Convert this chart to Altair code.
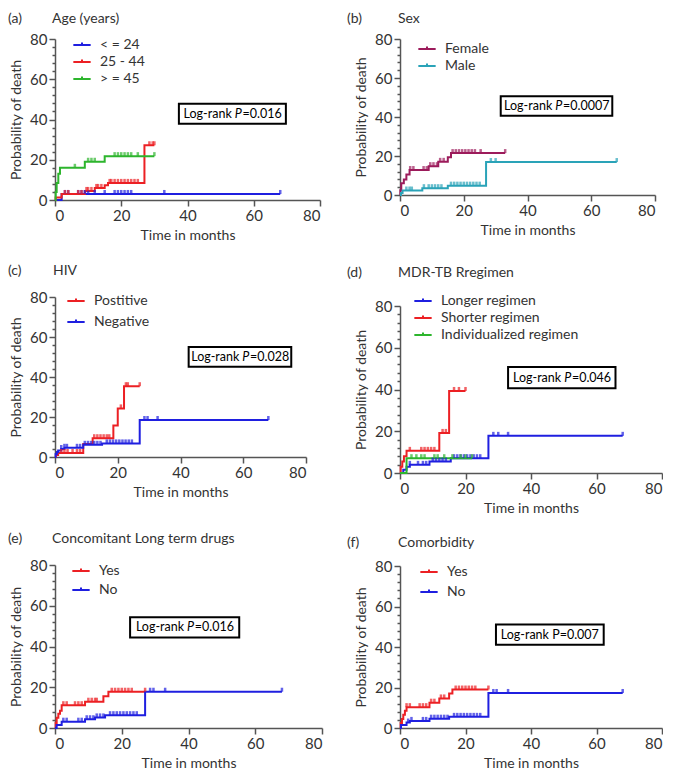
import altair as alt
import numpy as np
import pandas as pd

FONT = "Lato"
TXT = "#333333"
AXC = "#555555"

BLUE = "#1f1fe0"
RED = "#ec2024"
GREEN = "#2db52d"
CRIMSON = "#9c1b5b"
TEAL = "#2aa3b8"

XTICKS = [0, 20, 40, 60, 80]
YTICKS = list(range(0, 81, 4))

# ---------------- (a) Age ----------------
a_groups = ["< = 24", "25 - 44", "> = 45"]
a_le24_t = [0, 2, 68]
a_le24_p = [0, 3.0, 3.0]
a_le24_c = [3, 4, 7, 8, 9, 10, 12, 15, 18, 19, 20, 21, 22, 23, 33, 68]
a_2544_t = [0, 0.2, 2, 9, 12, 15, 16, 27, 30]
a_2544_p = [0, 1.2, 3.0, 4.5, 6.0, 7.3, 8.5, 27.2, 27.2]
a_2544_c = [3, 4, 7, 8, 9.5, 10, 11, 12.5, 13, 14, 16.5, 17, 18, 19, 20, 21, 22, 23, 24, 25, 28.5, 29.5, 30]
a_ge45_t = [0, 0.2, 0.5, 1, 1.5, 9, 15, 30]
a_ge45_p = [0, 4, 8.5, 13, 16, 19, 21.8, 21.8]
a_ge45_c = [6, 10, 11, 12, 18, 19, 20, 21, 22, 23, 25, 30]

# ---------------- (b) Sex ----------------
b_groups = ["Female", "Male"]
b_fem_t = [0, 0.1, 0.4, 1.2, 2, 3, 9, 12, 15, 16, 33]
b_fem_p = [0, 2.5, 6, 8, 10.5, 12.8, 14.8, 17, 19.3, 21.5, 21.5]
b_fem_c = [3.2, 4.2, 7.4, 8.4, 9.5, 10.5, 11.6, 12.6, 13.7, 16.5, 17.5, 18.5, 19.5, 20.5, 21.5, 22.5, 23.5, 25.3, 33]
b_male_t = [0, 0.3, 0.8, 7, 15, 27, 68]
b_male_p = [0, 1.0, 2.3, 3.5, 4.8, 16.9, 16.9]
b_male_c = [2, 3, 3.7, 7.5, 9, 10, 11, 12, 13, 16, 17, 18, 19, 20, 21, 22, 23, 24, 25, 28.5, 30, 68]

# ---------------- (c) HIV ----------------
c_groups = ["Postitive", "Negative"]
c_pos_t = [0, 0.3, 1, 9, 12, 18.6, 20, 22, 27]
c_pos_p = [0, 1, 2, 6.5, 9.4, 15.7, 24.3, 35.4, 35.4]
c_pos_c = [2, 3, 4, 5.6, 7, 8, 12.5, 13.5, 14.5, 15.5, 16.5, 17.3, 21, 22.6, 23.2, 27]
c_neg_t = [0, 0.2, 0.6, 1, 2, 3, 9, 15, 27, 68]
c_neg_p = [0, 1.5, 2.5, 3.3, 4.0, 4.6, 6.1, 6.8, 18.5, 18.5]
c_neg_c = [2, 3, 3.8, 7, 8, 9.5, 10.5, 11.5, 12.5, 13.5, 14.5, 16.5, 17.5, 18.5, 19.5, 20.5, 21.5, 22.5, 23.5, 24.5, 28.5, 29.5, 32.7, 68]

# ---------------- (d) MDR-TB regimen ----------------
d_groups = ["Longer regimen", "Shorter regimen", "Individualized regimen"]
d_long_t = [0, 1, 2, 3, 9, 15.5, 27, 68]
d_long_p = [0, 1.5, 3.0, 3.9, 5.5, 7.1, 17.8, 17.8]
d_long_c = [3, 5.5, 7, 8, 10, 11, 12, 13, 14, 16.5, 17.5, 18.5, 19.5, 20.5, 21.5, 22.5, 23.5, 24.5, 28.5, 30, 33, 68]
d_short_t = [0, 0.2, 0.7, 1.2, 2, 12, 15, 20]
d_short_p = [0, 3, 5.5, 8, 10.6, 19.2, 39.3, 39.3]
d_short_c = [3, 6.5, 7.5, 8.5, 9.5, 10.5, 13, 14, 16.5, 18, 20]
d_ind_t = [0, 2, 22]
d_ind_p = [0, 7.1, 7.1]
d_ind_c = [3.5, 5, 6.5, 7.5, 10.5, 11.5, 13.5, 16, 18.5, 20, 22]

# ---------------- (e) Concomitant long term drugs ----------------
e_groups = ["Yes", "No"]
e_yes_t = [0, 0.2, 0.5, 1, 1.5, 2, 9, 14.5, 16, 27]
e_yes_p = [0, 2.5, 5, 7, 8.5, 11.2, 12.9, 15.6, 17.8, 17.8]
e_yes_c = [2.5, 3.5, 6, 7, 8, 10, 11, 12, 12.5, 17, 18, 19, 20, 21, 22, 23, 27]
e_no_t = [0, 0.5, 2, 9, 12, 15, 27, 68]
e_no_p = [0, 1.5, 3.1, 4.3, 5.2, 6.3, 17.8, 17.8]
e_no_c = [2.5, 3.5, 7, 8, 9.5, 10.5, 11.5, 12.5, 13.5, 14.5, 16.5, 17.5, 18.5, 19.5, 20.5, 21.5, 22.5, 23.5, 24.5, 28.5, 29.5, 33, 68]

# ---------------- (f) Comorbidity ----------------
f_groups = ["Yes", "No"]
f_yes_t = [0, 0.2, 0.6, 1, 1.5, 2, 9, 12, 15, 16, 27]
f_yes_p = [0, 2.5, 4.5, 6.5, 8.5, 10.3, 12.5, 14.6, 17, 19, 19]
f_yes_c = [2, 3, 6, 7, 8, 9.5, 10.5, 12.5, 13.5, 17, 18, 19, 20, 21, 22, 23, 27]
f_no_t = [0, 0.3, 2, 3, 9, 15, 27, 68]
f_no_p = [0, 1.5, 2.7, 3.5, 4.6, 5.5, 17.3, 17.3]
f_no_c = [2.5, 3.5, 7, 8, 9.5, 10.5, 11.5, 12.5, 13.5, 14.5, 16.5, 17.5, 18.5, 19.5, 20.5, 21.5, 22.5, 23.5, 24.5, 28.5, 29.5, 33, 68]

PANELS = [
    dict(letter="(a)", title="Age (years)", groups=a_groups, colors=[BLUE, RED, GREEN],
         series=[(a_le24_t, a_le24_p, a_le24_c), (a_2544_t, a_2544_p, a_2544_c), (a_ge45_t, a_ge45_p, a_ge45_c)],
         pval="=0.016", italic=True, box=(37.4, 69.7, 37.9, 47.8),
         w=265, h=161, lx=-47, tx=-3, ty=-20, legx=17, legy=-4, rowpad=-3, spacer=None),
    dict(letter="(c)", title="HIV", groups=c_groups, colors=[RED, BLUE],
         series=[(c_pos_t, c_pos_p, c_pos_c), (c_neg_t, c_neg_p, c_neg_c)],
         pval="=0.028", italic=True, box=(42.6, 75.3, 45.1, 55.0),
         w=251, h=160, lx=-47, tx=-2, ty=-26, legx=11, legy=-6, rowpad=4, spacer=None),
    dict(letter="(e)", title="Concomitant Long term drugs", groups=e_groups, colors=[RED, BLUE],
         series=[(e_yes_t, e_yes_p, e_yes_c), (e_no_t, e_no_p, e_no_c)],
         pval="=0.016", italic=True, box=(22.5, 55.2, 44.4, 54.3),
         w=267, h=163, lx=-47, tx=-3, ty=-26, legx=16, legy=-4, rowpad=2, spacer=-37),
    dict(letter="(b)", title="Sex", groups=b_groups, colors=[CRIMSON, TEAL],
         series=[(b_fem_t, b_fem_p, b_fem_c), (b_male_t, b_male_p, b_male_c)],
         pval="=0.0007", italic=True, box=(31.6, 66.6, 40.6, 50.6),
         w=255, h=156, lx=-53, tx=-2, ty=-20, legx=17, legy=0, rowpad=0, spacer=None),
    dict(letter="(d)", title="MDR-TB Rregimen", groups=d_groups, colors=[BLUE, RED, GREEN],
         series=[(d_long_t, d_long_p, d_long_c), (d_short_t, d_short_p, d_short_c), (d_ind_t, d_ind_p, d_ind_c)],
         pval="=0.046", italic=True, box=(33.0, 65.8, 40.6, 50.8),
         w=262, h=167, lx=-53, tx=-2, ty=-33, legx=13, legy=-15, rowpad=-3, spacer=-41),
    dict(letter="(f)", title="Comorbidity", groups=f_groups, colors=[RED, BLUE],
         series=[(f_yes_t, f_yes_p, f_yes_c), (f_no_t, f_no_p, f_no_c)],
         pval="=0.007", italic=False, box=(29.3, 62.2, 41.1, 51.1),
         w=262, h=162, lx=-53, tx=-2, ty=-23, legx=19, legy=-4, rowpad=3, spacer=None),
]

FS = 12.5
CW = {"L": 0.53, "o": 0.56, "g": 0.51, "-": 0.34, "r": 0.37, "a": 0.5, "n": 0.56, "k": 0.5,
      "P": 0.58, "=": 0.58, ".": 0.25}


def text_w(s):
    return sum(CW.get(ch, 0.58) for ch in s) * FS


def step_at(ts, ps, t):
    i = int(np.searchsorted(np.array(ts), t, side="right")) - 1
    return ps[max(i, 0)]


def build(p):
    line_rows, cen_rows = [], []
    for name, (ts, ps, cs) in zip(p["groups"], p["series"]):
        for t, v in zip(ts, ps):
            line_rows.append({"group": name, "t": t, "prob": v})
        for c in cs:
            cen_rows.append({"group": name, "t": c, "prob": step_at(ts, ps, c)})
    lines_df = pd.DataFrame(line_rows)
    cen_df = pd.DataFrame(cen_rows)
    bx1, bx2, by1, by2 = p["box"]
    box_df = pd.DataFrame({"x1": [bx1], "x2": [bx2], "y1": [by1], "y2": [by2],
                           "xc": [(bx1 + bx2) / 2], "yc": [(by1 + by2) / 2]})

    xs = alt.Scale(domain=[0, 80], nice=False)
    ys = alt.Scale(domain=[0, 80], nice=False)
    xa = alt.Axis(values=XTICKS, title="Time in months", grid=False, tickSize=6,
                  labelPadding=2, titlePadding=5)
    ya = alt.Axis(values=YTICKS, title="Probability of death", grid=False,
                  labelExpr="datum.value % 20 == 0 ? datum.label : ''",
                  tickSize={"condition": {"test": "datum.value % 20 == 0", "value": 6}, "value": 3},
                  labelPadding=2, titlePadding=6)
    cscale = alt.Scale(domain=p["groups"], range=p["colors"])

    X = lambda f: alt.X(f, scale=xs, axis=xa)
    Y = lambda f: alt.Y(f, scale=ys, axis=ya)

    box = alt.Chart(box_df).mark_rect(fill="white", stroke="black", strokeWidth=2).encode(
        x=X("x1:Q"), x2="x2:Q", y=Y("y1:Q"), y2="y2:Q")

    layers = [box]
    if p["italic"]:
        wL = text_w("Log-rank")
        wP = text_w("P")
        wR = text_w(p["pval"])
        gap = 3
        shift = -(wP + wR - gap - wL) / 2
        base = dict(font=FONT, fontSize=FS, color="black", baseline="middle")
        layers.append(alt.Chart(box_df).mark_text(align="right", dx=shift - gap, **base).encode(
            x=X("xc:Q"), y=Y("yc:Q"), text=alt.value("Log-rank")))
        layers.append(alt.Chart(box_df).mark_text(align="left", dx=shift, fontStyle="italic", **base).encode(
            x=X("xc:Q"), y=Y("yc:Q"), text=alt.value("P")))
        layers.append(alt.Chart(box_df).mark_text(align="left", dx=shift + wP + 0.5, **base).encode(
            x=X("xc:Q"), y=Y("yc:Q"), text=alt.value(p["pval"])))
    else:
        layers.append(alt.Chart(box_df).mark_text(align="center", baseline="middle", font=FONT,
                                                  fontSize=FS, color="black").encode(
            x=X("xc:Q"), y=Y("yc:Q"), text=alt.value("Log-rank P" + p["pval"])))

    line = alt.Chart(lines_df).mark_line(interpolate="step-after", strokeWidth=2).encode(
        x=X("t:Q"), y=Y("prob:Q"),
        color=alt.Color("group:N", scale=cscale, sort=p["groups"],
                        legend=alt.Legend(orient="none", legendX=p["legx"], legendY=p["legy"],
                                          title=None, symbolType="M-1,0H1M0,0V-0.3",
                                          symbolSize=300, symbolStrokeWidth=2,
                                          labelFont=FONT, labelFontSize=14, labelColor=TXT,
                                          labelOffset=8, rowPadding=p["rowpad"], padding=0)))
    ticks = alt.Chart(cen_df).mark_tick(orient="vertical", size=4, thickness=2.5, yOffset=-2).encode(
        x=X("t:Q"), y=Y("prob:Q"),
        color=alt.Color("group:N", scale=cscale, legend=None))
    layers += [line, ticks]

    one = pd.DataFrame({"k": [0]})
    layers.append(alt.Chart(one).mark_text(align="left", baseline="middle", font=FONT,
                                           fontSize=14, color=TXT).encode(
        x=alt.value(p["lx"]), y=alt.value(p["ty"]), text=alt.value(p["letter"])))
    layers.append(alt.Chart(one).mark_text(align="left", baseline="middle", font=FONT,
                                           fontSize=14, color=TXT).encode(
        x=alt.value(p["tx"]), y=alt.value(p["ty"]), text=alt.value(p["title"])))
    if p["spacer"] is not None:
        layers.append(alt.Chart(one).mark_text(align="left", baseline="middle", font=FONT,
                                               fontSize=14, opacity=0).encode(
            x=alt.value(0), y=alt.value(p["spacer"]), text=alt.value("x")))

    return alt.layer(*layers).properties(width=p["w"], height=p["h"])


charts = [build(p) for p in PANELS]
col1 = alt.vconcat(charts[0], charts[1], charts[2], spacing=22).resolve_scale(color="independent")
col2 = alt.vconcat(charts[3], charts[4], charts[5], spacing=21).resolve_scale(color="independent")

chart = alt.hconcat(col1, col2, spacing=24).resolve_scale(color="independent").properties(
    padding={"top": 4, "left": 0, "right": 0, "bottom": 0}
).configure_view(stroke=None).configure_axis(
    labelFont=FONT, titleFont=FONT, labelFontSize=15, titleFontSize=14,
    titleFontWeight="normal", labelColor=TXT, titleColor=TXT,
    domainColor=AXC, tickColor=AXC, domainWidth=1.5, tickWidth=1.5
)

chart.save("out.html", embed_options={"renderer": "svg", "actions": False})
